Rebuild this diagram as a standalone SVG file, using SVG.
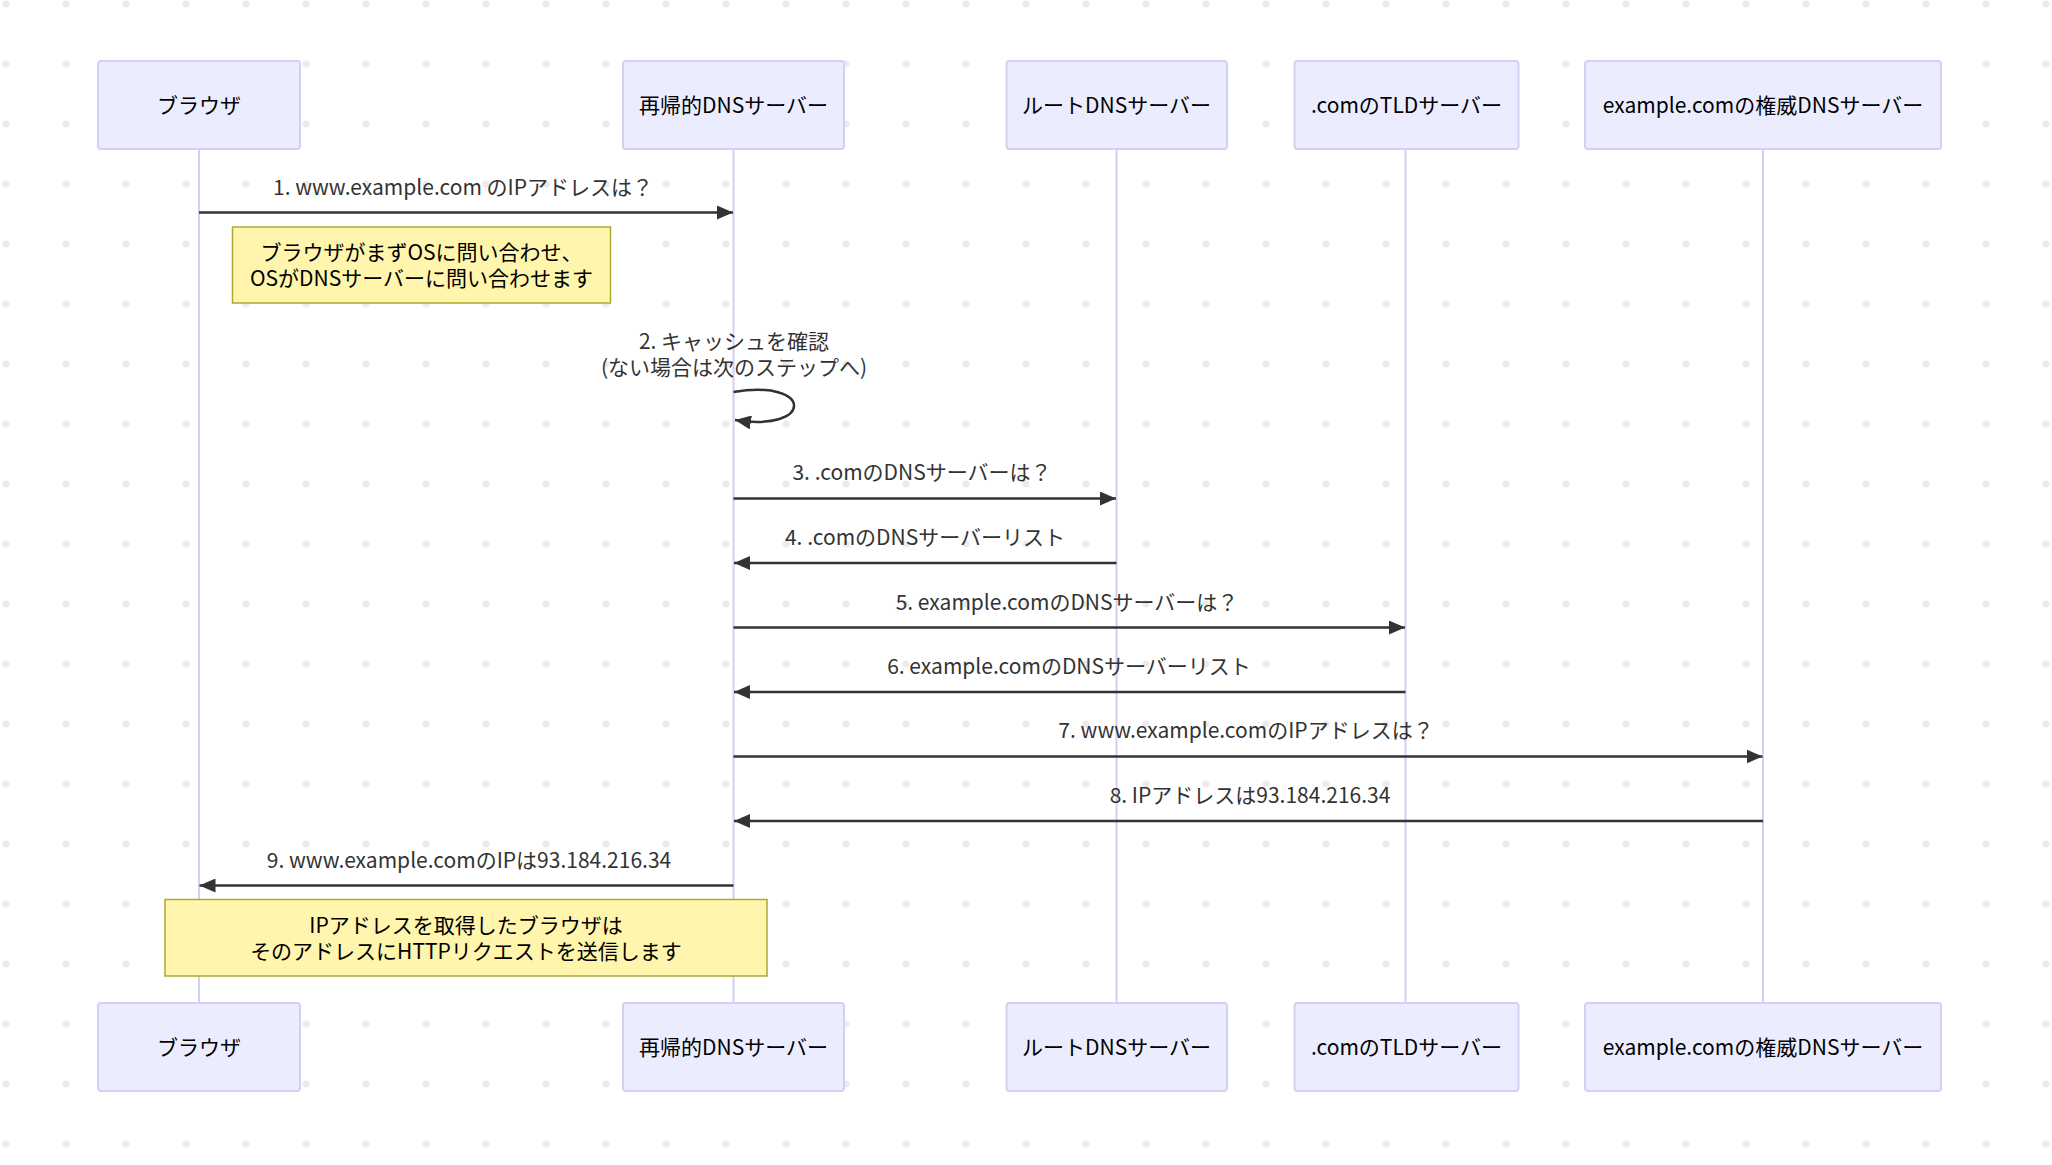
<svg xmlns="http://www.w3.org/2000/svg" width="2052" height="1165" viewBox="0 0 2052 1165">
<defs>
<pattern id="dots" patternUnits="userSpaceOnUse" x="-24" y="-26" width="60" height="60">
<circle cx="30" cy="30" r="3.6" fill="#ebebeb"/>
</pattern>
<marker id="arrow" markerUnits="userSpaceOnUse" viewBox="0 0 16 14" refX="16" refY="7" markerWidth="16" markerHeight="14" orient="auto">
<path d="M0,0 L16,7 L0,14 z" fill="#333"/>
</marker>
</defs>
<style>
.actor{fill:#ECECFF;stroke:#D6CEF3;stroke-width:2}
.alabel{font-family:"Noto Sans CJK JP","Noto Sans",sans-serif;font-size:21px;fill:#000;text-anchor:middle;dominant-baseline:central}
.life{stroke:#D6CEF3;stroke-width:2}
.msg{stroke:#333;stroke-width:2.5;fill:none;marker-end:url(#arrow)}
.mtext{font-family:"Noto Sans CJK JP","Noto Sans",sans-serif;font-size:21px;fill:#333;text-anchor:middle;dominant-baseline:central}
.note{fill:#FFF5AD;stroke:#AAAA33;stroke-width:1.5}
.ntext{font-family:"Noto Sans CJK JP","Noto Sans",sans-serif;font-size:21px;fill:#000;text-anchor:middle;dominant-baseline:central}
</style>
<rect width="2052" height="1165" fill="#fff"/>
<rect width="2052" height="1165" fill="url(#dots)"/>

<g id="lifelines">
<line class="life" x1="199" y1="149" x2="199" y2="1003"/>
<line class="life" x1="733.5" y1="149" x2="733.5" y2="1003"/>
<line class="life" x1="1116.5" y1="149" x2="1116.5" y2="1003"/>
<line class="life" x1="1405.5" y1="149" x2="1405.5" y2="1003"/>
<line class="life" x1="1763" y1="149" x2="1763" y2="1003"/>
</g>

<g id="actor-browser-top"><rect class="actor" x="98" y="61" width="202" height="88" rx="3"/><text class="alabel" x="199" y="103.5">ブラウザ</text></g>
<g id="actor-recursive-top"><rect class="actor" x="623" y="61" width="221" height="88" rx="3"/><text class="alabel" x="733.5" y="103.5">再帰的DNSサーバー</text></g>
<g id="actor-root-top"><rect class="actor" x="1006.5" y="61" width="220.5" height="88" rx="3"/><text class="alabel" x="1116.5" y="103.5">ルートDNSサーバー</text></g>
<g id="actor-tld-top"><rect class="actor" x="1294.5" y="61" width="224" height="88" rx="3"/><text class="alabel" x="1406.5" y="103.5">.comのTLDサーバー</text></g>
<g id="actor-auth-top"><rect class="actor" x="1585" y="61" width="356" height="88" rx="3"/><text class="alabel" x="1763" y="103.5">example.comの権威DNSサーバー</text></g>

<g id="actor-browser-bottom"><rect class="actor" x="98" y="1003" width="202" height="88" rx="3"/><text class="alabel" x="199" y="1045.5">ブラウザ</text></g>
<g id="actor-recursive-bottom"><rect class="actor" x="623" y="1003" width="221" height="88" rx="3"/><text class="alabel" x="733.5" y="1045.5">再帰的DNSサーバー</text></g>
<g id="actor-root-bottom"><rect class="actor" x="1006.5" y="1003" width="220.5" height="88" rx="3"/><text class="alabel" x="1116.5" y="1045.5">ルートDNSサーバー</text></g>
<g id="actor-tld-bottom"><rect class="actor" x="1294.5" y="1003" width="224" height="88" rx="3"/><text class="alabel" x="1406.5" y="1045.5">.comのTLDサーバー</text></g>
<g id="actor-auth-bottom"><rect class="actor" x="1585" y="1003" width="356" height="88" rx="3"/><text class="alabel" x="1763" y="1045.5">example.comの権威DNSサーバー</text></g>

<g id="connectors">
<line class="msg" x1="199" y1="212.5" x2="733" y2="212.5"/>
<text class="mtext" x="463" y="185.5">1. www.example.com のIPアドレスは？</text>

<path class="msg" d="M733.5,392 C814,378.5 814,432.5 735,420"/>
<text class="mtext" x="734" y="340">2. キャッシュを確認</text>
<text class="mtext" x="734" y="366">(ない場合は次のステップへ)</text>

<line class="msg" x1="733.5" y1="498.5" x2="1116" y2="498.5"/>
<text class="mtext" x="922" y="471">3. .comのDNSサーバーは？</text>

<line class="msg" x1="1116.5" y1="563" x2="734" y2="563"/>
<text class="mtext" x="925" y="535.5">4. .comのDNSサーバーリスト</text>

<line class="msg" x1="733.5" y1="627.5" x2="1405" y2="627.5"/>
<text class="mtext" x="1067" y="600.5">5. example.comのDNSサーバーは？</text>

<line class="msg" x1="1405.5" y1="692" x2="734" y2="692"/>
<text class="mtext" x="1069" y="664.5">6. example.comのDNSサーバーリスト</text>

<line class="msg" x1="733.5" y1="756.5" x2="1762.5" y2="756.5"/>
<text class="mtext" x="1246" y="729">7. www.example.comのIPアドレスは？</text>

<line class="msg" x1="1763" y1="821" x2="734" y2="821"/>
<text class="mtext" x="1250" y="794">8. IPアドレスは93.184.216.34</text>

<line class="msg" x1="733.5" y1="885.5" x2="199.5" y2="885.5"/>
<text class="mtext" x="469" y="858.5">9. www.example.comのIPは93.184.216.34</text>
</g>

<g id="note-1">
<rect class="note" x="232.5" y="227" width="378" height="76"/>
<text class="ntext" x="421.5" y="251">ブラウザがまずOSに問い合わせ、</text>
<text class="ntext" x="421.5" y="277">OSがDNSサーバーに問い合わせます</text>
</g>

<g id="note-2">
<rect class="note" x="165" y="899.5" width="602" height="76.5"/>
<text class="ntext" x="466" y="924">IPアドレスを取得したブラウザは</text>
<text class="ntext" x="466" y="950">そのアドレスにHTTPリクエストを送信します</text>
</g>
</svg>
